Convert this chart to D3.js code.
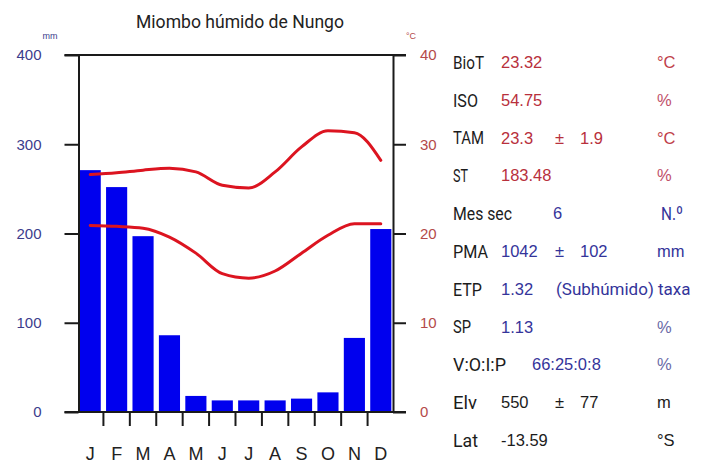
<!DOCTYPE html>
<html>
<head>
<meta charset="utf-8">
<script src="https://cdn.jsdelivr.net/npm/d3@7"></script>
<style>
  html, body { margin: 0; padding: 0; background: #fff; }
  svg { display: block; }
</style>
</head>
<body>
<svg id="chart" width="704" height="463"></svg>
<script>
// Climate diagram: monthly precipitation (bars) and temperature envelopes (lines)
const months = ["J", "F", "M", "A", "M", "J", "J", "A", "S", "O", "N", "D"];
const precipitation = [271, 252, 197, 86, 18, 13, 13, 13, 15, 22, 83, 205];
const tempUpper = [26.6, 26.8, 27.1, 27.3, 26.9, 25.4, 25.1, 26.9, 29.7, 31.5, 31.3, 28.2];
const tempLower = [20.9, 20.8, 20.6, 19.6, 17.8, 15.5, 15.0, 15.8, 17.8, 19.8, 21.1, 21.1];
const precipTicks = [0, 100, 200, 300, 400];
const tempTicks = [0, 10, 20, 30, 40];

// Station summary panel
const statNames = ["BioT", "ISO", "TAM", "ST", "Mes sec", "PMA", "ETP", "SP", "V:O:I:P", "Elv", "Lat"];
const statValues = ["23.32", "54.75", "23.3", "183.48", "6", "1042", "1.32", "1.13", "66:25:0:8", "550", "-13.59"];
const statSpread = [null, null, "1.9", null, null, "102", null, null, null, "77", null];
const statUnits = ["°C", "%", "°C", "%", "N.º", "mm", "(Subhúmido) taxa", "%", "%", "m", "°S"];

const title = "Miombo húmido de Nungo";

const svg = d3.select("#chart");

const COND = "Roboto, 'Liberation Sans', sans-serif";
const SANS = "'Liberation Sans', Arial, Helvetica, sans-serif";

const plot = { left: 78.5, right: 393, top: 55, bottom: 412, tickOut: 14 };

const x = d3.scaleBand()
  .domain(d3.range(months.length))
  .range([77, 394])
  .paddingInner(0.2)
  .paddingOuter(0.1);

const yP = d3.scaleLinear().domain([0, 400]).range([plot.bottom, plot.top]);
const yT = d3.scaleLinear().domain([0, 40]).range([plot.bottom, plot.top]);

// Title
svg.append("text")
  .attr("x", 240).attr("y", 28)
  .attr("text-anchor", "middle")
  .attr("font-family", COND)
  .attr("font-size", 18)
  .attr("textLength", 208)
  .attr("lengthAdjust", "spacingAndGlyphs")
  .attr("fill", "#222")
  .text(title);

// Unit captions above the axes
svg.append("text")
  .attr("x", 50).attr("y", 39)
  .attr("text-anchor", "middle")
  .attr("font-family", SANS).attr("font-size", 9)
  .attr("fill", "#3c3c8c")
  .text("mm");
svg.append("text")
  .attr("x", 411).attr("y", 39)
  .attr("text-anchor", "middle")
  .attr("font-family", SANS).attr("font-size", 9)
  .attr("fill", "#b44a4a")
  .text("°C");

// Bars
svg.append("g")
  .selectAll("rect")
  .data(precipitation)
  .join("rect")
  .attr("x", (d, i) => x(i))
  .attr("width", x.bandwidth())
  .attr("y", d => yP(d))
  .attr("height", d => yP(0) - yP(d))
  .attr("fill", "#0000ee");

// Temperature lines
const line = (vals) => d3.line()
  .x((d, i) => x(i) + x.bandwidth() / 2)
  .y(d => yT(d))
  .curve(d3.curveMonotoneX)(vals);

[tempUpper, tempLower].forEach(vals => {
  svg.append("path")
    .attr("d", line(vals))
    .attr("fill", "none")
    .attr("stroke", "#dc1420")
    .attr("stroke-width", 3)
    .attr("stroke-linejoin", "round")
    .attr("stroke-linecap", "round");
});

// Left axis (precipitation)
const gL = svg.append("g")
  .attr("transform", `translate(${plot.left},0)`)
  .call(d3.axisLeft(yP).tickValues(precipTicks).tickSize(plot.tickOut).tickSizeOuter(0).tickPadding(23));
gL.select(".domain").attr("stroke", "#1a1a1a").attr("stroke-width", 2);
gL.selectAll(".tick line").attr("stroke", "#1a1a1a").attr("stroke-width", 2);
gL.selectAll(".tick text")
  .attr("font-family", SANS).attr("font-size", 15)
  .attr("fill", "#3c3c8c");

// Right axis (temperature)
const gR = svg.append("g")
  .attr("transform", `translate(${plot.right},0)`)
  .call(d3.axisRight(yT).tickValues(tempTicks).tickSize(13).tickSizeOuter(0).tickPadding(14));
gR.select(".domain").attr("stroke", "#1a1a1a").attr("stroke-width", 2);
gR.selectAll(".tick line").attr("stroke", "#1a1a1a").attr("stroke-width", 2);
gR.selectAll(".tick text")
  .attr("font-family", SANS).attr("font-size", 15)
  .attr("fill", "#b44a4a");

// Top and bottom frame lines
[plot.top, plot.bottom].forEach(yy => {
  svg.append("line")
    .attr("x1", plot.left - plot.tickOut).attr("x2", plot.right + 13)
    .attr("y1", yy).attr("y2", yy)
    .attr("stroke", "#1a1a1a").attr("stroke-width", 2);
});

// Month separators below the baseline
const step = x.step();
const sepGap = step * x.paddingInner() / 2;
svg.append("g")
  .selectAll("line")
  .data(d3.range(1, months.length))
  .join("line")
  .attr("x1", i => x(i) - sepGap).attr("x2", i => x(i) - sepGap)
  .attr("y1", plot.bottom).attr("y2", plot.bottom + 14)
  .attr("stroke", "#1a1a1a").attr("stroke-width", 2);

// Month labels
svg.append("g")
  .selectAll("text")
  .data(months)
  .join("text")
  .attr("x", (d, i) => x(i) + x.bandwidth() / 2)
  .attr("y", 460)
  .attr("text-anchor", "middle")
  .attr("font-family", SANS).attr("font-size", 18)
  .attr("fill", "#222")
  .text(d => d);

// Summary panel
const RED = "#b8303c", BLUE = "#34349a", BLACK = "#1c1c1c";
const rowColor = i => i < 4 ? RED : (i < 9 ? BLUE : BLACK);
const nameWidth = [31, 25, 31, 15, 59, 35, 29, 18, 53, 24, 25];
const valueX = i => statValues[i] === "6" ? 553 : (statValues[i].includes(":") ? 532 : 501);
const unitColor = ["#c0404a", "#c0506a", "#c0404a", "#c0506a", "#34349a", "#34349a", "#34349a", "#6a6aa6", "#6a6aa6", BLACK, BLACK];
const rowY = i => 62 + i * 37.8;

const panel = svg.append("g");
statNames.forEach((name, i) => {
  const y = rowY(i);
  panel.append("text")
    .attr("x", 453).attr("y", y).attr("dy", "0.36em")
    .attr("font-family", COND).attr("font-size", 19)
    .attr("textLength", nameWidth[i]).attr("lengthAdjust", "spacingAndGlyphs")
    .attr("fill", BLACK)
    .text(name);

  panel.append("text")
    .attr("x", valueX(i)).attr("y", y).attr("dy", "0.36em")
    .attr("font-family", SANS).attr("font-size", 16.5)
    .attr("fill", rowColor(i))
    .text(statValues[i]);

  if (statSpread[i]) {
    panel.append("text")
      .attr("x", 555).attr("y", y).attr("dy", "0.36em")
      .attr("font-family", SANS).attr("font-size", 16.5)
      .attr("fill", rowColor(i))
      .text("±");
    panel.append("text")
      .attr("x", 580).attr("y", y).attr("dy", "0.36em")
      .attr("font-family", SANS).attr("font-size", 16.5)
      .attr("fill", rowColor(i))
      .text(statSpread[i]);
  }

  const u = statUnits[i];
  const t = panel.append("text")
    .attr("y", y).attr("dy", "0.36em")
    .attr("fill", unitColor[i])
    .text(u);
  if (u === "N.º") {
    t.attr("x", 661).attr("font-family", COND).attr("font-size", 19)
      .attr("textLength", 22).attr("lengthAdjust", "spacingAndGlyphs");
  } else if (u.startsWith("(")) {
    t.attr("x", 556).attr("font-family", COND).attr("font-size", 17);
  } else {
    t.attr("x", 657).attr("font-family", SANS).attr("font-size", 16.5);
  }
});
</script>
</body>
</html>
